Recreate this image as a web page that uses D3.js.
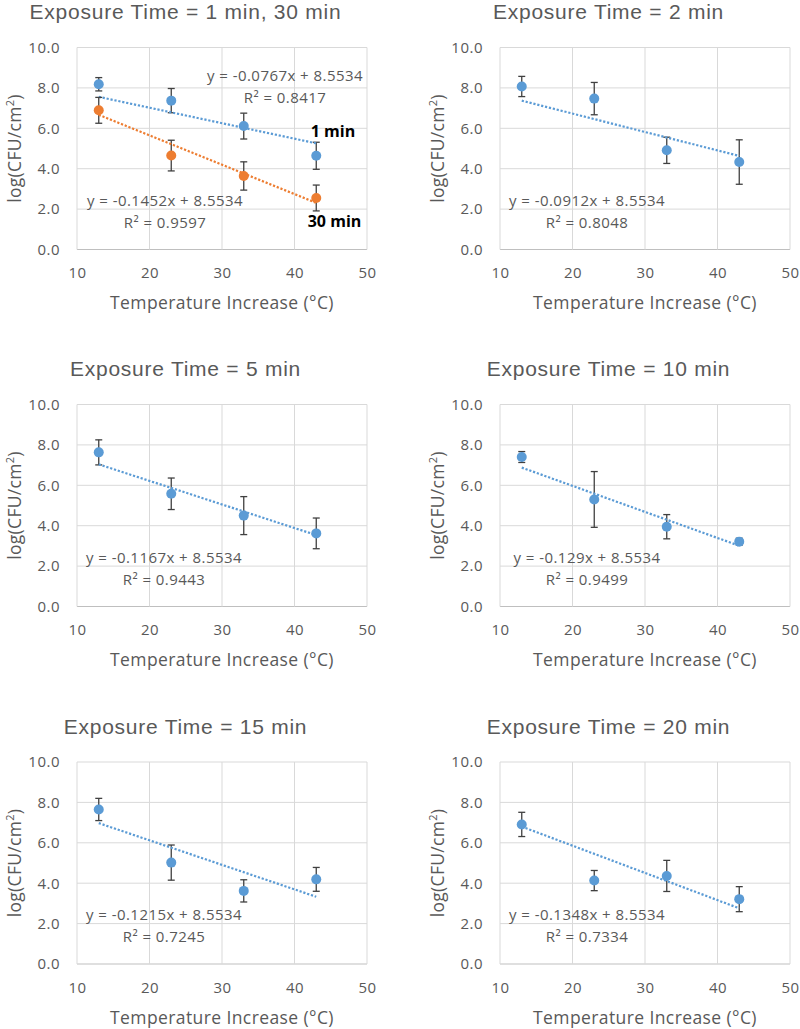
<!DOCTYPE html>
<html>
<head>
<meta charset="utf-8">
<script src="https://cdn.jsdelivr.net/npm/d3@7"></script>
<style>
  html, body { margin: 0; padding: 0; background: #ffffff; }
  svg { display: block; }
  text { font-family: "Open Sans", "Liberation Sans", sans-serif; fill: #595959; }
</style>
</head>
<body>
<svg id="chart" width="800" height="1029"></svg>
<script>
// ---------------- DATA ----------------
const tempIncrease = [13, 23, 33, 43];
const xTicks = [10, 20, 30, 40, 50];
const yTicks = [0, 2, 4, 6, 8, 10];

const panelTitles = [
  "Exposure Time = 1 min, 30 min",
  "Exposure Time = 2 min",
  "Exposure Time = 5 min",
  "Exposure Time = 10 min",
  "Exposure Time = 15 min",
  "Exposure Time = 20 min"
];

const mean1min  = [8.18, 7.37, 6.11, 4.64];
const err1min   = [0.33, 0.60, 0.64, 0.67];
const mean30min = [6.89, 4.65, 3.64, 2.55];
const err30min  = [0.64, 0.76, 0.70, 0.64];
const mean2min  = [8.07, 7.47, 4.91, 4.33];
const err2min   = [0.50, 0.80, 0.65, 1.10];
const mean5min  = [7.63, 5.58, 4.50, 3.62];
const err5min   = [0.62, 0.78, 0.94, 0.76];
const mean10min = [7.40, 5.30, 3.95, 3.21];
const err10min  = [0.27, 1.38, 0.60, 0.17];
const mean15min = [7.65, 5.02, 3.62, 4.19];
const err15min  = [0.55, 0.87, 0.55, 0.59];
const mean20min = [6.91, 4.13, 4.36, 3.21];
const err20min  = [0.60, 0.50, 0.77, 0.62];

// trendline y = slope * x + intercept
const slopes    = [-0.0767, -0.1452, -0.0912, -0.1167, -0.129, -0.1215, -0.1348];
const slopeText = ["-0.0767", "-0.1452", "-0.0912", "-0.1167", "-0.129", "-0.1215", "-0.1348"];
const intercept = 8.5534;
const rSquared  = ["0.8417", "0.9597", "0.8048", "0.9443", "0.9499", "0.7245", "0.7334"];
const seriesLabels = ["1 min", "30 min"];

// ---------------- STYLE / LAYOUT ----------------
const BLUE = "#5B9BD5", ORANGE = "#ED7D31";
const plotW = 290, plotH = 202;
const panelOrigins = [
  [77, 47.5], [500, 47.5],
  [77, 404.5], [500, 404.5],
  [77, 762], [500, 762]
];

// series per panel: [meanArray, errArray, color, trend index]
const panelSeries = [
  [[mean1min, err1min, BLUE, 0], [mean30min, err30min, ORANGE, 1]],
  [[mean2min, err2min, BLUE, 2]],
  [[mean5min, err5min, BLUE, 3]],
  [[mean10min, err10min, BLUE, 4]],
  [[mean15min, err15min, BLUE, 5]],
  [[mean20min, err20min, BLUE, 6]]
];

const svg = d3.select("#chart");

panelOrigins.forEach((origin, pi) => {
  const [left, top] = origin;
  const x = d3.scaleLinear().domain([10, 50]).range([left, left + plotW]);
  const y = d3.scaleLinear().domain([0, 10]).range([top + plotH, top]);
  const g = svg.append("g");

  // gridlines
  g.selectAll(".hgrid").data(yTicks).enter().append("line")
    .attr("x1", x(10)).attr("x2", x(50))
    .attr("y1", d => y(d)).attr("y2", d => y(d))
    .attr("stroke", d => d === 0 ? "#bfbfbf" : "#d9d9d9").attr("stroke-width", 1);
  g.selectAll(".vgrid").data(xTicks).enter().append("line")
    .attr("x1", d => x(d)).attr("x2", d => x(d))
    .attr("y1", y(0)).attr("y2", y(10))
    .attr("stroke", "#d9d9d9").attr("stroke-width", 1);

  // axes (labels only)
  const xAxis = g.append("g").attr("transform", `translate(0,${y(0)})`)
    .call(d3.axisBottom(x).tickValues(xTicks).tickSize(0).tickPadding(18).tickFormat(d3.format("d")));
  const yAxis = g.append("g").attr("transform", `translate(${x(10)},0)`)
    .call(d3.axisLeft(y).tickValues(yTicks).tickSize(0).tickPadding(17).tickFormat(d3.format(".1f")));
  [xAxis, yAxis].forEach(a => {
    a.select(".domain").remove();
    a.selectAll("text").attr("font-family", "Open Sans, Liberation Sans, sans-serif")
      .attr("font-size", 15).attr("letter-spacing", 0.5).attr("fill", "#595959");
  });

  // title
  g.append("text")
    .attr("x", left + 108.5).attr("y", top - 28.3)
    .attr("text-anchor", "middle").attr("font-size", 21)
    .attr("letter-spacing", 0.75)
    .style("font-family", "'Liberation Sans', Arial, sans-serif")
    .text(panelTitles[pi]);

  // x axis title
  g.append("text")
    .attr("x", left + plotW / 2).attr("y", top + plotH + 59.5)
    .attr("text-anchor", "middle").attr("font-size", 17.5)
    .attr("letter-spacing", 0.4)
    .text("Temperature Increase (°C)");

  // y axis title
  const yt = g.append("text")
    .attr("transform", `translate(${left - 56},${top + plotH / 2}) rotate(-90)`)
    .attr("text-anchor", "middle").attr("font-size", 17.5).attr("letter-spacing", 0.3);
  yt.append("tspan").text("log(CFU/cm");
  yt.append("tspan").attr("font-size", 11).attr("dy", -7).text("2");
  yt.append("tspan").attr("dy", 7).text(")");

  panelSeries[pi].forEach(([means, errs, color, ti]) => {
    const pts = tempIncrease.map((t, i) => ({ t, m: means[i], e: errs[i] }));
    // error bars
    const eb = g.append("g").attr("stroke", "#404040").attr("stroke-width", 1.3);
    pts.forEach(p => {
      eb.append("line").attr("x1", x(p.t)).attr("x2", x(p.t))
        .attr("y1", y(p.m + p.e)).attr("y2", y(p.m - p.e));
      [p.m + p.e, p.m - p.e].forEach(v => {
        eb.append("line").attr("x1", x(p.t) - 3.5).attr("x2", x(p.t) + 3.5)
          .attr("y1", y(v)).attr("y2", y(v));
      });
    });
    // markers
    g.selectAll(null).data(pts).enter().append("circle")
      .attr("cx", d => x(d.t)).attr("cy", d => y(d.m)).attr("r", 5)
      .attr("fill", color);
    // trendline
    const x0 = tempIncrease[0], x1 = tempIncrease[tempIncrease.length - 1];
    g.append("line")
      .attr("x1", x(x0)).attr("y1", y(slopes[ti] * x0 + intercept))
      .attr("x2", x(x1)).attr("y2", y(slopes[ti] * x1 + intercept))
      .attr("stroke", color).attr("stroke-width", 2.2)
      .attr("stroke-dasharray", "2.2,1.8");
  });

  // equation labels
  const eqPos = [];
  if (pi === 0) {
    eqPos.push([0, left + 208, top + 33]);
    eqPos.push([1, left + 88, top + plotH - 44]);
  } else {
    eqPos.push([pi + 1, left + 87, top + plotH - 44]);
  }
  eqPos.forEach(([ti, cx, by]) => {
    g.append("text").attr("x", cx).attr("y", by).attr("text-anchor", "middle")
      .attr("font-size", 15).attr("letter-spacing", 0.45)
      .text(`y = ${slopeText[ti]}x + ${intercept}`);
    g.append("text").attr("x", cx).attr("y", by + 22.3).attr("text-anchor", "middle")
      .attr("font-size", 15).attr("letter-spacing", 0.45)
      .text(`R² = ${rSquared[ti]}`);
  });

  if (pi === 0) {
    g.append("text").attr("x", left + 256).attr("y", top + 89)
      .attr("text-anchor", "middle").attr("font-size", 16).attr("font-weight", "bold")
      .style("fill", "#000").text(seriesLabels[0]);
    g.append("text").attr("x", left + 257.5).attr("y", top + plotH - 22.3)
      .attr("text-anchor", "middle").attr("font-size", 16).attr("font-weight", "bold")
      .style("fill", "#000").text(seriesLabels[1]);
  }
});
</script>
</body>
</html>
